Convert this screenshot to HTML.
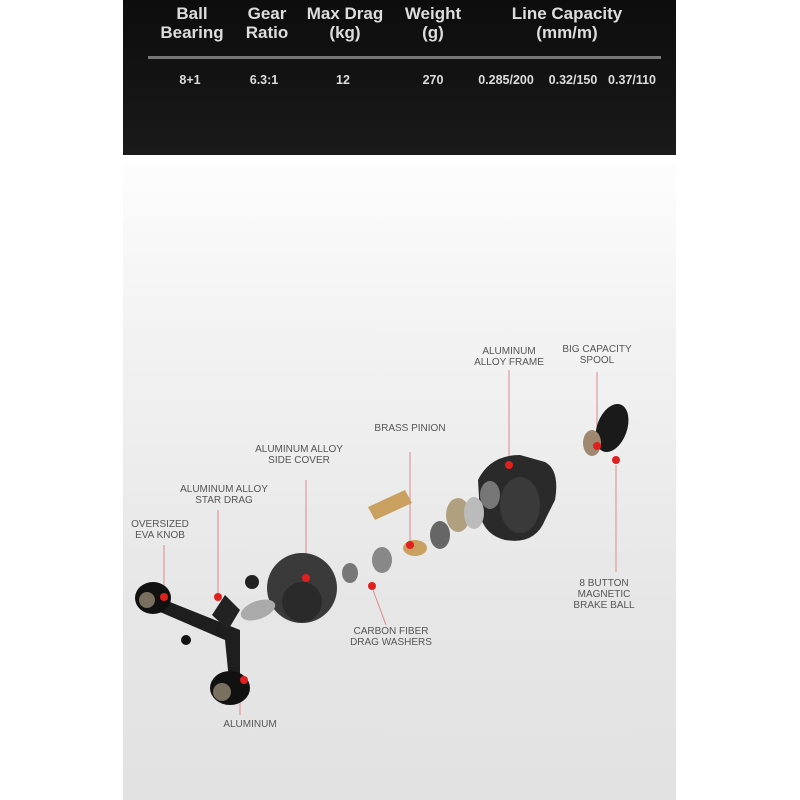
<!DOCTYPE html>
<html><head><meta charset="utf-8"><style>
body{margin:0;width:800px;height:800px;background:#fff;position:relative;overflow:hidden;font-family:"Liberation Sans",sans-serif}
.blk{position:absolute;left:123px;top:0;width:553px;height:155px;background:linear-gradient(#0d0d0d,#141414 60%,#1a1a1a)}
.gr{position:absolute;left:123px;top:163px;width:553px;height:637px;background:linear-gradient(#fdfdfd,#f3f3f3 25%,#e6e6e6 70%,#e2e2e2)}
.h{position:absolute;color:#ddd;font-weight:bold;font-size:17px;line-height:19px;text-align:center;transform:translateX(-50%);white-space:nowrap}
.v{position:absolute;color:#ddd;font-weight:bold;font-size:12.5px;transform:translateX(-50%);white-space:nowrap;top:73px}
.l{position:absolute;color:#555;font-size:10px;line-height:11px;text-align:center;transform:translateX(-50%);white-space:nowrap}
</style></head><body>
<div class="blk"></div>
<div class="h" style="left:192px;top:4px">Ball<br>Bearing</div>
<div class="h" style="left:267px;top:4px">Gear<br>Ratio</div>
<div class="h" style="left:345px;top:4px">Max Drag<br>(kg)</div>
<div class="h" style="left:433px;top:4px">Weight<br>(g)</div>
<div class="h" style="left:567px;top:4px">Line Capacity<br>(mm/m)</div>
<div style="position:absolute;left:148px;top:56px;width:513px;height:3px;background:#777"></div>
<div class="v" style="left:190px">8+1</div>
<div class="v" style="left:264px">6.3:1</div>
<div class="v" style="left:343px">12</div>
<div class="v" style="left:433px">270</div>
<div class="v" style="left:506px">0.285/200</div>
<div class="v" style="left:573px">0.32/150</div>
<div class="v" style="left:632px">0.37/110</div>
<div class="gr"></div>
<svg style="position:absolute;left:0;top:0" width="800" height="800">
<g stroke="#d88" stroke-width="1">
<line x1="509" y1="370" x2="509" y2="465"/><line x1="597" y1="372" x2="597" y2="428"/>
<line x1="410" y1="452" x2="410" y2="545"/><line x1="306" y1="480" x2="306" y2="578"/>
<line x1="218" y1="510" x2="218" y2="597"/><line x1="164" y1="545" x2="164" y2="590"/>
<line x1="616" y1="465" x2="616" y2="572"/><line x1="240" y1="692" x2="240" y2="715"/>
<line x1="373" y1="590" x2="386" y2="625"/>
</g>
<!-- frame -->
<path d="M478 480 Q490 455 520 455 L545 462 Q560 470 555 500 L545 520 Q535 545 505 540 Q485 535 480 515 Z" fill="#2a2a2a"/>
<ellipse cx="490" cy="495" rx="10" ry="14" fill="#777"/>
<ellipse cx="520" cy="505" rx="20" ry="28" fill="#3a3a3a"/>
<!-- spool -->
<ellipse cx="612" cy="428" rx="15" ry="25" fill="#1a1a1a" transform="rotate(20 612 428)"/>
<ellipse cx="592" cy="443" rx="9" ry="13" fill="#a08870"/>
<!-- gears -->
<ellipse cx="458" cy="515" rx="12" ry="17" fill="#b0a080"/>
<ellipse cx="474" cy="513" rx="10" ry="16" fill="#bbb"/>
<ellipse cx="440" cy="535" rx="10" ry="14" fill="#666"/>
<path d="M368 507 L405 490 L412 503 L375 520 Z" fill="#c9a060"/>
<ellipse cx="415" cy="548" rx="12" ry="8" fill="#c9a060"/>
<ellipse cx="382" cy="560" rx="10" ry="13" fill="#888"/>
<ellipse cx="350" cy="573" rx="8" ry="10" fill="#777"/>
<!-- side cover -->
<circle cx="302" cy="588" r="35" fill="#3a3a3a"/><circle cx="302" cy="602" r="20" fill="#2a2a2a"/>
<ellipse cx="258" cy="610" rx="18" ry="9" fill="#aaa" transform="rotate(-20 258 610)"/>
<circle cx="252" cy="582" r="7" fill="#222"/>
<!-- handle -->
<path d="M165 600 L240 630 L240 685 L230 690 L225 640 L160 612 Z" fill="#1e1e1e"/>
<path d="M225 595 L240 610 L228 630 L212 615 Z" fill="#222"/>
<ellipse cx="153" cy="598" rx="18" ry="16" fill="#111"/><circle cx="147" cy="600" r="8" fill="#7a7060"/>
<ellipse cx="230" cy="688" rx="20" ry="17" fill="#111"/><circle cx="222" cy="692" r="9" fill="#7a7060"/>
<circle cx="186" cy="640" r="5" fill="#111"/>
<g fill="#e0201e">
<circle cx="509" cy="465" r="4"/><circle cx="597" cy="446" r="4"/><circle cx="410" cy="545" r="4"/>
<circle cx="306" cy="578" r="4"/><circle cx="218" cy="597" r="4"/><circle cx="164" cy="597" r="4"/>
<circle cx="616" cy="460" r="4"/><circle cx="244" cy="680" r="4"/><circle cx="372" cy="586" r="4"/>
</g>
</svg>
<div class="l" style="left:509px;top:346px">ALUMINUM<br>ALLOY FRAME</div>
<div class="l" style="left:597px;top:344px">BIG CAPACITY<br>SPOOL</div>
<div class="l" style="left:410px;top:423px">BRASS PINION</div>
<div class="l" style="left:299px;top:444px">ALUMINUM ALLOY<br>SIDE COVER</div>
<div class="l" style="left:224px;top:484px">ALUMINUM ALLOY<br>STAR DRAG</div>
<div class="l" style="left:160px;top:519px">OVERSIZED<br>EVA KNOB</div>
<div class="l" style="left:604px;top:578px">8 BUTTON<br>MAGNETIC<br>BRAKE BALL</div>
<div class="l" style="left:391px;top:626px">CARBON FIBER<br>DRAG WASHERS</div>
<div class="l" style="left:250px;top:719px">ALUMINUM</div>
</body></html>
